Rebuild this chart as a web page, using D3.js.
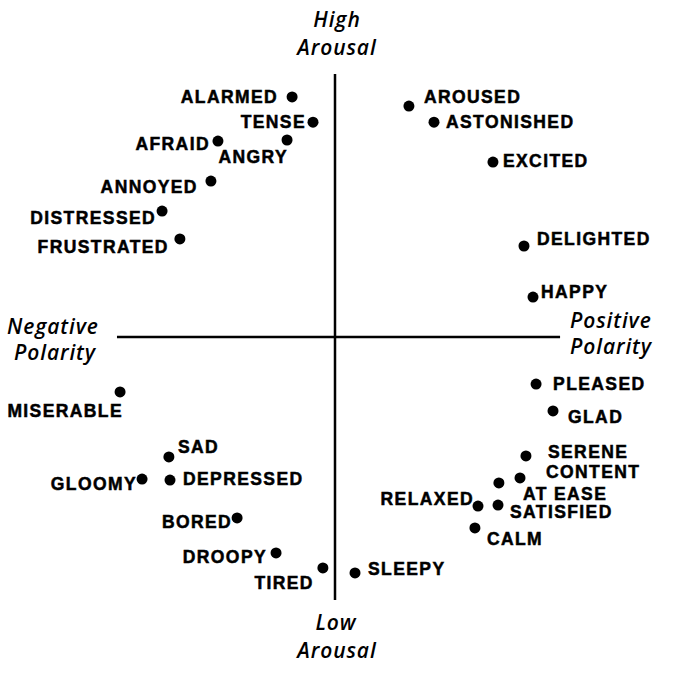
<!DOCTYPE html>
<html>
<head>
<meta charset="utf-8">
<script src="https://cdn.jsdelivr.net/npm/d3@7"></script>
<style>
  html, body { margin: 0; padding: 0; background: #fff; }
  svg { display: block; }
</style>
</head>
<body>
<script>
// ---- Data (valence x, arousal y, in [-1, 1]) ----
const emotions = ["ALARMED","TENSE","AFRAID","ANGRY","ANNOYED","DISTRESSED","FRUSTRATED",
  "AROUSED","ASTONISHED","EXCITED","DELIGHTED","HAPPY",
  "PLEASED","GLAD","SERENE","CONTENT","AT EASE","RELAXED","SATISFIED","CALM","SLEEPY",
  "TIRED","DROOPY","BORED","DEPRESSED","GLOOMY","SAD","MISERABLE"];
const valence = [-0.195,-0.10,-0.532,-0.218,-0.564,-0.786,-0.705,
  0.336,0.45,0.718,0.859,0.90,
  0.914,0.991,0.868,0.841,0.745,0.65,0.741,0.636,0.091,
  -0.055,-0.268,-0.445,-0.75,-0.877,-0.755,-0.977];
const arousal = [0.913,0.817,0.745,0.749,0.593,0.479,0.373,
  0.878,0.817,0.665,0.346,0.152,
  -0.179,-0.281,-0.452,-0.536,-0.555,-0.643,-0.639,-0.726,-0.897,
  -0.878,-0.821,-0.688,-0.544,-0.540,-0.456,-0.209];
// label placement relative to each dot: [anchor, dx, dy]
const labelPlacement = [["end",-14,6],["end",-7,6],["end",-8,9],["end",1,23],["end",-13,12],["end",-6,13],["end",-11,14],
  ["start",15,-3],["start",12,6],["start",10,5],["start",13,-1],["start",8,1],
  ["start",17,6],["start",15,12],["start",22,2],["start",26,0],["start",24,17],["end",-4,-1],["start",12,13],["start",12,17],["start",13,2],
  ["end",-9,21],["end",-9,10],["end",-5,10],["start",13,5],["end",-5,11],["start",9,-4],["end",3,25]];
const axisTitles = {
  top: ["High", "Arousal"],
  bottom: ["Low", "Arousal"],
  left: ["Negative", "Polarity"],
  right: ["Positive", "Polarity"]
};
const xAxisExtent = [-0.991, 1.023];
const yAxisExtent = [-1, 1];

// ---- Drawing ----
const W = 675, H = 675;
const svg = d3.select("body").append("svg").attr("width", W).attr("height", H);

const x = d3.scaleLinear().domain([-1, 1]).range([115, 555]);
const y = d3.scaleLinear().domain([-1, 1]).range([600, 74]);

// axes
svg.append("line")
  .attr("x1", x(xAxisExtent[0])).attr("x2", x(xAxisExtent[1]))
  .attr("y1", y(0)).attr("y2", y(0))
  .attr("stroke", "#000").attr("stroke-width", 2.5);
svg.append("line")
  .attr("x1", x(0)).attr("x2", x(0))
  .attr("y1", y(yAxisExtent[1])).attr("y2", y(yAxisExtent[0]))
  .attr("stroke", "#000").attr("stroke-width", 2.5);

const data = emotions.map((e, i) => ({
  name: e, v: valence[i], a: arousal[i],
  anchor: labelPlacement[i][0], dx: labelPlacement[i][1], dy: labelPlacement[i][2]
}));

const g = svg.append("g");
g.selectAll("circle").data(data).join("circle")
  .attr("cx", d => x(d.v)).attr("cy", d => y(d.a))
  .attr("r", 5.5).attr("fill", "#000");

g.selectAll("text.lbl").data(data).join("text")
  .attr("class", "lbl")
  .attr("x", d => x(d.v) + d.dx)
  .attr("y", d => y(d.a) + d.dy)
  .attr("text-anchor", d => d.anchor)
  .style("font-family", "'Liberation Sans', Arial, sans-serif")
  .style("font-weight", "bold")
  .style("font-size", "17.5px")
  .style("letter-spacing", "1.4px")
  .attr("fill", "#000")
  .attr("stroke", "#000")
  .attr("stroke-width", 0.5)
  .text(d => d.name);

// axis titles
const titleStyle = sel => sel
  .style("font-family", "'Open Sans', sans-serif")
  .style("font-style", "italic")
  .style("font-weight", "600")
  .style("font-size", "21px")
  .style("letter-spacing", "0.9px")
  .attr("fill", "#000");

function title(lines, cx, baselines, anchor) {
  lines.forEach((t, i) => {
    svg.append("text")
      .attr("x", cx[i]).attr("y", baselines[i])
      .attr("text-anchor", anchor)
      .call(titleStyle)
      .text(t);
  });
}
title(axisTitles.top, [337, 337], [27, 55], "middle");
title(axisTitles.bottom, [336, 337], [630, 658], "middle");
title(axisTitles.left, [7, 14], [334, 360], "start");
title(axisTitles.right, [570, 570], [328, 354], "start");
</script>
</body>
</html>
